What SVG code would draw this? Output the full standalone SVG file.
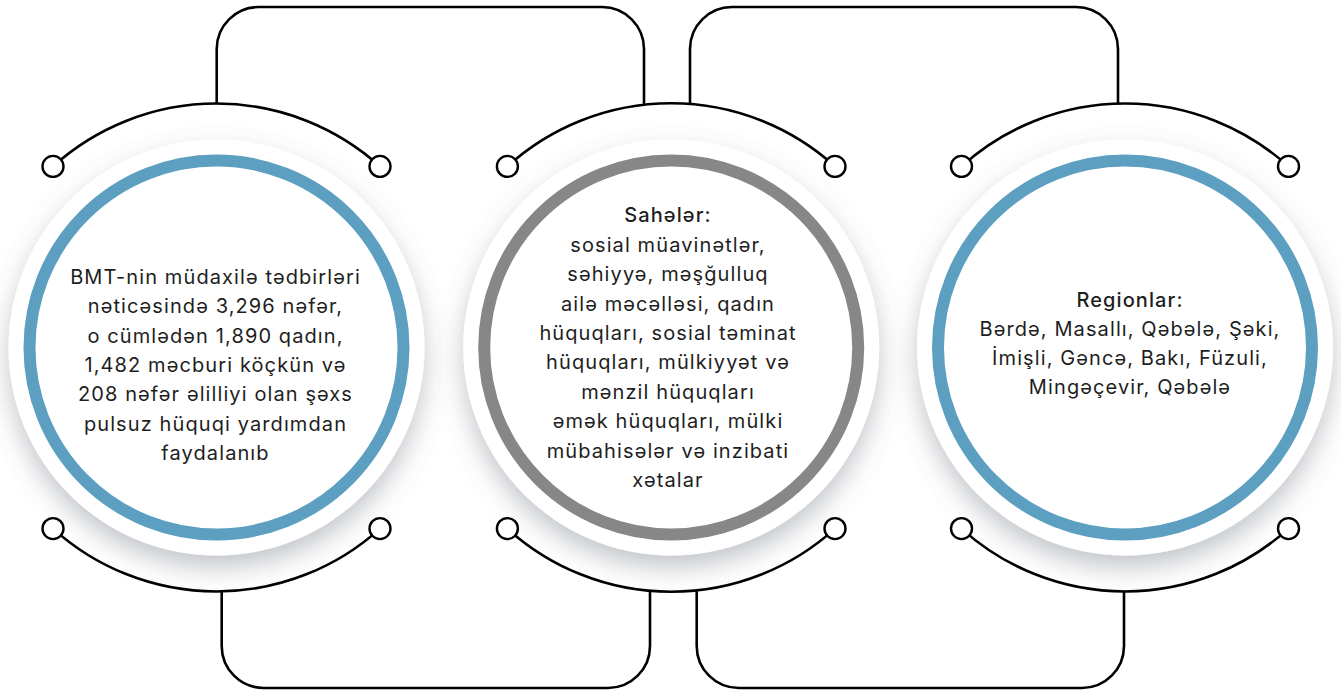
<svg xmlns="http://www.w3.org/2000/svg" width="1341" height="693" viewBox="0 0 1341 693">
  <defs>
    <filter id="sh" x="-30%" y="-30%" width="160%" height="170%">
      <feDropShadow dx="0" dy="12" stdDeviation="13" flood-color="#5d6670" flood-opacity="0.38"/>
    </filter>
  </defs>
  <style>
    .disc{fill:#ffffff;filter:url(#sh)}
    .ring{fill:none;stroke-width:12}
    .blue{stroke:#5c9fc0}
    .gray{stroke:#878787}
    .wire{fill:none;stroke:#000;stroke-width:2.6;stroke-linecap:round}
    .dot{fill:#fff;stroke:#000;stroke-width:2.4}
    text{font-family:Inter,"Noto Sans","DejaVu Sans",sans-serif;font-size:20px;letter-spacing:1.1px;fill:#1e1e1e;text-anchor:middle}
    .hd{font-weight:500}
  </style>

  <g id="node-left">
    <circle class="disc" cx="216.5" cy="347.5" r="208"/>
    <circle class="ring blue" cx="216.5" cy="347.5" r="187"/>
    <text x="215.5" y="284">BMT-nin müdaxilə tədbirləri</text>
    <text x="215.5" y="313.3">nəticəsində 3,296 nəfər,</text>
    <text x="215.5" y="342.6">o cümlədən 1,890 qadın,</text>
    <text x="215.5" y="371.9">1,482 məcburi köçkün və</text>
    <text x="215.5" y="401.2">208 nəfər əlilliyi olan şəxs</text>
    <text x="215.5" y="430.5">pulsuz hüquqi yardımdan</text>
    <text x="215.5" y="459.8">faydalanıb</text>
  </g>

  <g id="node-middle">
    <circle class="disc" cx="671.2" cy="347.5" r="208"/>
    <circle class="ring gray" cx="671.2" cy="347.5" r="187"/>
    <text class="hd" x="668" y="222.3">Sahələr:</text>
    <text x="668" y="251.7">sosial müavinətlər,</text>
    <text x="668" y="281.1">səhiyyə, məşğulluq</text>
    <text x="668" y="310.5">ailə məcəlləsi, qadın</text>
    <text x="668" y="339.9">hüquqları, sosial təminat</text>
    <text x="668" y="369.3">hüquqları, mülkiyyət və</text>
    <text x="668" y="398.7">mənzil hüquqları</text>
    <text x="668" y="428.1">əmək hüquqları, mülki</text>
    <text x="668" y="457.5">mübahisələr və inzibati</text>
    <text x="668" y="486.9">xətalar</text>
  </g>

  <g id="node-right">
    <circle class="disc" cx="1125" cy="347.5" r="208"/>
    <circle class="ring blue" cx="1125" cy="347.5" r="187"/>
    <text class="hd" x="1130" y="307.3">Regionlar:</text>
    <text x="1130" y="336.3">Bərdə, Masallı, Qəbələ, Şəki,</text>
    <text x="1130" y="365.3">İmişli, Gəncə, Bakı, Füzuli,</text>
    <text x="1130" y="394.3">Mingəçevir, Qəbələ</text>
  </g>

  <g id="connectors">
    <path class="wire" d="M216.7,103 V49 A42,42 0 0 1 258.7,7 H602 A42,42 0 0 1 644,49 V103"/>
    <path class="wire" d="M690,103 V49 A42,42 0 0 1 732,7 H1076 A42,42 0 0 1 1118,49 V103"/>
    <path class="wire" d="M221.7,592 V646 A42,42 0 0 0 263.7,688 H608 A42,42 0 0 0 650,646 V592"/>
    <path class="wire" d="M696.7,592 V646 A42,42 0 0 0 738.7,688 H1082 A42,42 0 0 0 1124,646 V592"/>

    <path class="wire" d="M53,166.4 A244,244 0 0 1 380,166.4"/>
    <path class="wire" d="M53,528.6 A244,244 0 0 0 380,528.6"/>
    <path class="wire" d="M507.4,166.4 A244,244 0 0 1 835,166.4"/>
    <path class="wire" d="M507.4,528.6 A244,244 0 0 0 835,528.6"/>
    <path class="wire" d="M961.5,166.4 A244,244 0 0 1 1288.5,166.4"/>
    <path class="wire" d="M961.5,528.6 A244,244 0 0 0 1288.5,528.6"/>

    <circle class="dot" cx="53" cy="166.4" r="10.5"/>
    <circle class="dot" cx="380" cy="166.4" r="10.5"/>
    <circle class="dot" cx="53" cy="528.6" r="10.5"/>
    <circle class="dot" cx="380" cy="528.6" r="10.5"/>
    <circle class="dot" cx="507.4" cy="166.4" r="10.5"/>
    <circle class="dot" cx="835" cy="166.4" r="10.5"/>
    <circle class="dot" cx="507.4" cy="528.6" r="10.5"/>
    <circle class="dot" cx="835" cy="528.6" r="10.5"/>
    <circle class="dot" cx="961.5" cy="166.4" r="10.5"/>
    <circle class="dot" cx="1288.5" cy="166.4" r="10.5"/>
    <circle class="dot" cx="961.5" cy="528.6" r="10.5"/>
    <circle class="dot" cx="1288.5" cy="528.6" r="10.5"/>
  </g>
</svg>
